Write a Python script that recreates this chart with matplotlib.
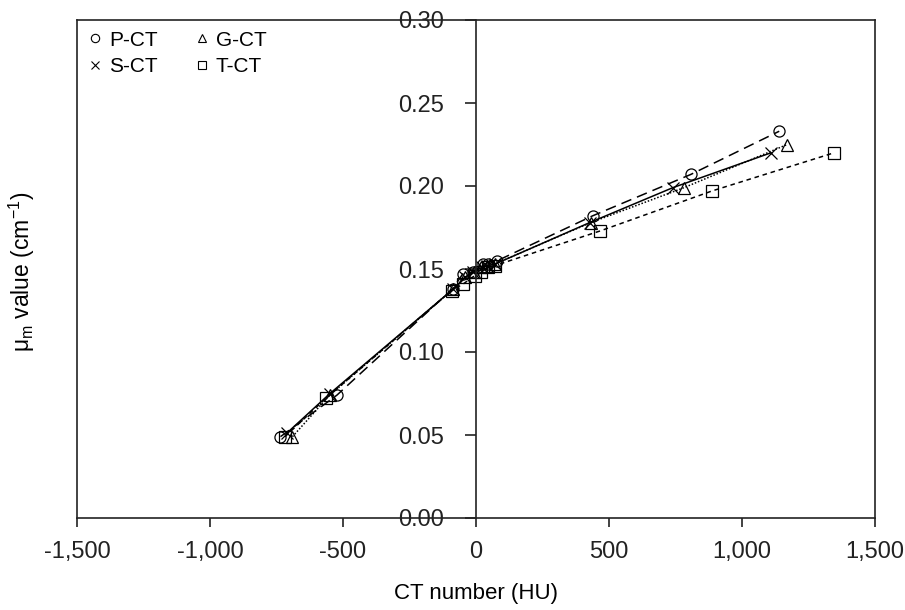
import matplotlib
matplotlib.use("Agg")
import matplotlib.pyplot as plt
from matplotlib.lines import Line2D
from matplotlib.ticker import FuncFormatter

plt.rcParams['font.family'] = ['Liberation Sans', 'DejaVu Sans']
plt.rcParams['mathtext.default'] = 'regular'

# Data (CT number in HU, mu_m in cm^-1)
p_ct_x = [-735, -523, -88, -50, -12, 25, 45, 80, 438, 808, 1140]
p_ct_y = [0.049, 0.074, 0.138, 0.147, 0.148, 0.153, 0.153, 0.155, 0.182, 0.207, 0.233]

g_ct_x = [-690, -550, -85, -40, -8, 20, 40, 70, 432, 782, 1170]
g_ct_y = [0.049, 0.074, 0.138, 0.145, 0.148, 0.151, 0.152, 0.153, 0.178, 0.199, 0.225]

s_ct_x = [-712, -549, -85, -42, -10, 22, 42, 72, 428, 740, 1109]
s_ct_y = [0.051, 0.075, 0.138, 0.145, 0.148, 0.151, 0.152, 0.153, 0.178, 0.199, 0.220]

t_ct_x = [-718, -565, -92, -48, -5, 20, 45, 70, 468, 887, 1346]
t_ct_y = [0.049, 0.072, 0.137, 0.141, 0.146, 0.148, 0.151, 0.152, 0.173, 0.197, 0.220]

series_names = ["P-CT", "G-CT", "S-CT", "T-CT"]
x_ticks = [-1500, -1000, -500, 0, 500, 1000, 1500]
y_ticks = [0.00, 0.05, 0.10, 0.15, 0.20, 0.25, 0.30]

fig = plt.figure(figsize=(9.05, 6.10), dpi=100)
ax = fig.add_axes([77/905, 92/610, 798/905, 498/610])

styles = {
    "P-CT": dict(marker='o', ls=(0, (7, 4))),
    "G-CT": dict(marker='^', ls=(0, (1, 1.2))),
    "S-CT": dict(marker='x', ls='-'),
    "T-CT": dict(marker='s', ls=(0, (3, 2.5))),
}
data = {"P-CT": (p_ct_x, p_ct_y), "G-CT": (g_ct_x, g_ct_y),
        "S-CT": (s_ct_x, s_ct_y), "T-CT": (t_ct_x, t_ct_y)}

for name in series_names:
    xs, ys = data[name]
    st = styles[name]
    ax.plot(xs, ys, color='black', lw=1.1, linestyle=st['ls'], marker=st['marker'],
            markersize=8, markerfacecolor='none',
            markeredgecolor='black', markeredgewidth=0.9, clip_on=False)

ax.set_xlim(-1500, 1500)
ax.set_ylim(0, 0.30)
ax.set_xticks(x_ticks)
ax.set_yticks(y_ticks)
ax.xaxis.set_major_formatter(FuncFormatter(lambda v, p: f"{v:,.0f}"))
ax.yaxis.set_major_formatter(FuncFormatter(lambda v, p: f"{v:.2f}"))

for s in ['top', 'right', 'bottom', 'left']:
    ax.spines[s].set_color('#222222')
    ax.spines[s].set_linewidth(1.2)
ax.spines['left'].set_position(('data', 0))
# outer left frame line
ax.plot([0, 0], [0, 1], transform=ax.transAxes, color='#222222', lw=1.2, clip_on=False)

ax.tick_params(axis='x', direction='out', length=6.5, width=1.2, labelsize=17, pad=10, colors='#222222')
ax.tick_params(axis='y', direction='out', length=8, width=1.2, labelsize=17, pad=15, colors='#222222')
ax.tick_params(top=False, right=False)

fig.text(476/905, 1 - 594/610, "CT number (HU)", fontsize=16, ha='center', va='center')
fig.text(22/905, 1 - 272/610, "μ$_m$ value (cm$^{-1}$)", rotation=90, fontsize=16.5,
         ha='center', va='center')

handles = []
for name in ["P-CT", "S-CT", "G-CT", "T-CT"]:
    st = styles[name]
    handles.append(Line2D([], [], color='black', linestyle='none', marker=st['marker'],
                          markersize=6, markerfacecolor='none', markeredgewidth=0.8,
                          label=name))
ax.legend(handles=handles, ncol=2, loc='upper left', bbox_to_anchor=(-0.011, 1.008),
          frameon=False, fontsize=15, handletextpad=0.05, columnspacing=1.55,
          labelspacing=0.35, handlelength=1.2, borderaxespad=0.3)

fig.savefig("out.png", dpi=100)
